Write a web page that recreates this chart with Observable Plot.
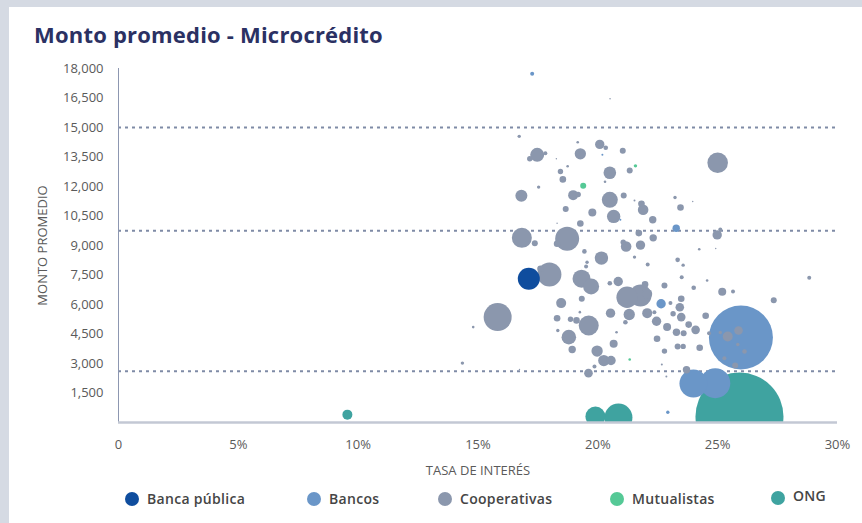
<!DOCTYPE html>
<html>
<head>
<meta charset="utf-8">
<script src="https://cdn.jsdelivr.net/npm/d3@7"></script>
<script src="https://cdn.jsdelivr.net/npm/@observablehq/plot@0.6"></script>
<style>
  html, body { margin: 0; padding: 0; }
  body { width: 862px; height: 523px; background: #d5dae3; position: relative; overflow: hidden; font-family: "Open Sans", sans-serif; }
  #card { position: absolute; left: 9px; top: 7px; width: 900px; height: 600px; background: #fff; }
  #title { position: absolute; left: 34px; top: 20px; font-size: 22px; letter-spacing: 0.2px; font-weight: 700; color: #2b3163; line-height: 29px; white-space: nowrap; }
  #chart { position: absolute; left: 0; top: 55px; }
  #legend { position: absolute; left: 0; top: 489px; width: 862px; height: 30px; font-size: 14px; letter-spacing: 0.3px; font-weight: 600; color: #454545; }
  .item { position: absolute; top: 0; display: flex; align-items: center; white-space: nowrap; }
  .sw { width: 14px; height: 14px; border-radius: 50%; margin-right: 8px; display: inline-block; }
</style>
</head>
<body>
<div id="card"></div>
<div id="title">Monto promedio - Microcrédito</div>
<div id="chart"></div>
<div id="legend"></div>
<script>
// Categories and colours
const categorias = ["Banca pública", "Bancos", "Cooperativas", "Mutualistas", "ONG"];
const colores = ["#0f4d9e", "#6a96c8", "#8b97ad", "#55c996", "#3fa3a0"];

// [tasa de interés %, monto promedio, tamaño de cartera (unidades relativas)]
const bancaPublica = [[17.12, 7310, 121]];
const bancos = [
  [25.97, 4320, 1024], [24.90, 2000, 225], [23.99, 1980, 196], [17.26, 17730, 4],
  [20.19, 13610, 1], [23.27, 9880, 13.7], [22.64, 6040, 22], [22.92, 520, 2.9], [20.94, 10310, 1]
];
const cooperativas = [
  [16.72, 14550, 2.9], [17.47, 13610, 49], [17.16, 13410, 7.3], [17.81, 13690, 4], [18.27, 13410, 0.5],
  [19.16, 14250, 1.7], [19.27, 13660, 32], [20.08, 14140, 22], [20.33, 13970, 5.3], [21.04, 13820, 9],
  [18.74, 13030, 1.7], [18.44, 12760, 7.3], [18.54, 12360, 11], [20.50, 12700, 40], [21.33, 12810, 9],
  [20.30, 12240, 1.7], [17.53, 11970, 2.9], [16.81, 11530, 36], [18.97, 11560, 25], [19.18, 11590, 7.3],
  [20.50, 11320, 64], [21.08, 11540, 9], [21.53, 11290, 1], [21.82, 11120, 11], [21.89, 10820, 28],
  [18.66, 10850, 9], [19.77, 10680, 16], [20.66, 10480, 45], [22.29, 10310, 13.7], [19.27, 10120, 11],
  [18.30, 10130, 0.5], [16.83, 9390, 100], [17.37, 9120, 9], [18.72, 9340, 144], [18.30, 9090, 11],
  [19.44, 8700, 5.3], [20.15, 8360, 45], [21.71, 9630, 11], [22.31, 9390, 13.7], [21.18, 8950, 28],
  [21.06, 9170, 7.3], [21.78, 9020, 22], [21.53, 8410, 2.9], [22.08, 8030, 4], [19.55, 8150, 2.9],
  [19.51, 7930, 4], [25.00, 13210, 106], [23.22, 11440, 2.9], [23.96, 11240, 0.5], [23.45, 10930, 11],
  [24.98, 9540, 22], [25.11, 9810, 4], [24.23, 8810, 1.7], [24.92, 8850, 0.5], [23.33, 8270, 5.3],
  [23.56, 8000, 2.9], [17.98, 7530, 144], [17.61, 7820, 11], [19.32, 7310, 81], [19.72, 6920, 64],
  [20.85, 7170, 22], [20.50, 7080, 5.3], [21.97, 7020, 11], [21.22, 6370, 114], [21.78, 6460, 121],
  [22.06, 6540, 25], [18.47, 6070, 25], [19.33, 6290, 9], [15.82, 5360, 196], [14.80, 4850, 1.7],
  [14.35, 3020, 2.9], [18.30, 5300, 11], [18.86, 5250, 7.3], [19.11, 5190, 11], [19.25, 5610, 1.7],
  [19.62, 4930, 100], [20.53, 5560, 22], [21.31, 5490, 32], [21.15, 5100, 5.3], [22.06, 5560, 25],
  [22.45, 5150, 22], [18.33, 4680, 2.9], [18.79, 4340, 53], [18.93, 3710, 13.7], [20.78, 4590, 1.7],
  [20.66, 4000, 16], [19.97, 3630, 32], [20.25, 3150, 32], [20.55, 3150, 22], [19.86, 2850, 4],
  [19.61, 2510, 18.5], [22.47, 4260, 11], [23.50, 7390, 4], [24.56, 7220, 1.7], [22.78, 6970, 9],
  [24.00, 6850, 5.3], [25.19, 6650, 16], [25.64, 6660, 4], [28.82, 7360, 4], [27.34, 6220, 9],
  [23.03, 6070, 4], [23.48, 6290, 11], [23.42, 5860, 18.5], [22.36, 5610, 4], [23.14, 5530, 7.3],
  [23.48, 5360, 18.5], [24.50, 5430, 11], [22.89, 4850, 16], [23.79, 4980, 11], [24.08, 4710, 18.5],
  [23.28, 4590, 13.7], [23.58, 4540, 9], [24.64, 4540, 4], [22.78, 3630, 7.3], [23.33, 3870, 9],
  [23.56, 3870, 7.3], [24.25, 3800, 11], [22.67, 2950, 1], [23.70, 2680, 13.7], [25.42, 4370, 25],
  [25.87, 4680, 18.5], [25.11, 4580, 2.9], [26.12, 3610, 5.3], [25.28, 3270, 4], [25.73, 2900, 9],
  [25.84, 3970, 2.9], [20.51, 16460, 0.6], [16.73, 2700, 0.5], [22.86, 2340, 1]
];
const mutualistas = [[21.57, 13050, 2.9], [19.39, 12040, 9], [21.33, 3200, 1.7]];
const ong = [[9.55, 400, 25], [19.90, 300, 100], [20.86, 250, 196], [25.91, 300, 1936]];

// Reference lines (monto promedio)
const lineasReferencia = [15000, 9750, 2600];
// Axis ticks
const xTicks = [0, 5, 10, 15, 20, 25, 30];
const yTicks = [1500, 3000, 4500, 6000, 7500, 9000, 10500, 12000, 13500, 15000, 16500, 18000];

// Drawing order: Bancos underneath, ONG on top
const capas = [
  ["Bancos", bancos], ["Cooperativas", cooperativas], ["Mutualistas", mutualistas],
  ["Banca pública", bancaPublica], ["ONG", ong]
];
const puntos = capas.flatMap(([tipo, arr]) => arr.map(([tasa, monto, tam]) => ({tipo, tasa, monto, tam})));
const maxTam = d3.max(puntos, d => d.tam);

const chart = Plot.plot({
  width: 862,
  height: 430,
  marginTop: 13,
  marginBottom: 63,
  marginLeft: 118,
  marginRight: 25,
  style: {fontFamily: "Open Sans, sans-serif", fontSize: "13px", color: "#5a5a5a", background: "transparent"},
  x: {domain: [0, 30], ticks: xTicks, tickSize: 0, tickPadding: 17, tickFormat: d => d === 0 ? "0" : d + "%",
      label: "TASA DE INTERÉS", labelAnchor: "center", labelArrow: "none", labelOffset: 52},
  y: {domain: [0, 18000], ticks: yTicks, tickSize: 0, tickPadding: 15, tickFormat: d3.format(","),
      label: "MONTO PROMEDIO", labelAnchor: "center", labelArrow: "none", labelOffset: 81},
  color: {domain: categorias, range: colores},
  r: {domain: [0, maxTam], range: [0, Math.sqrt(maxTam)]},
  marks: [
    Plot.ruleY(lineasReferencia, {stroke: "#7f8ba6", strokeWidth: 2, strokeDasharray: "3,4"}),
    Plot.dot(puntos, {x: "tasa", y: "monto", r: "tam", fill: "tipo", clip: true}),
    Plot.ruleX([0], {stroke: "#8d97b1", strokeWidth: 1}),
    Plot.ruleY([0], {stroke: "#c3c8d4", strokeWidth: 2.5})
  ]
});
document.getElementById("chart").appendChild(chart);

// Legend layout (left edge of each swatch, px)
const legendLeft = [125, 307, 438, 610, 771];
const legend = document.getElementById("legend");
categorias.forEach((c, i) => {
  const it = document.createElement("div");
  it.className = "item";
  it.style.left = legendLeft[i] + "px";
  if (c === "ONG") it.style.alignItems = "flex-start";
  const sw = document.createElement("span");
  sw.className = "sw";
  sw.style.background = colores[i];
  if (c === "ONG") { sw.style.marginTop = "5px"; it.style.top = "-3px"; }
  const t = document.createElement("span");
  t.textContent = c;
  it.appendChild(sw);
  it.appendChild(t);
  legend.appendChild(it);
});
</script>
</body>
</html>
